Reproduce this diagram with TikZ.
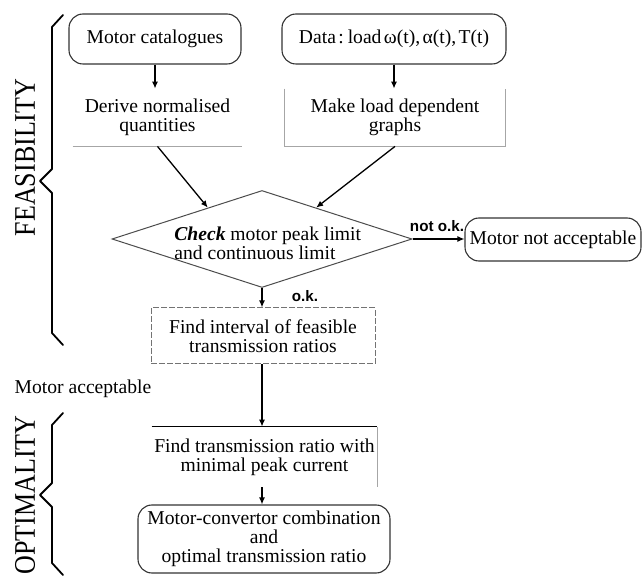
\documentclass[tikz,border=0pt]{standalone}
\usepackage{fontspec}
\setmainfont{Liberation Serif}
\newfontfamily\lblfont{Liberation Sans}
\usetikzlibrary{arrows.meta,shapes.geometric,calc}
\begin{document}
\begin{tikzpicture}[x=0.5pt,y=-0.5pt,
  body/.style={font=\fontsize{9.8pt}{9.6pt}\selectfont, align=center, inner sep=0pt},
  rbox/.style={body, draw=black!80, line width=0.55pt, rounded corners=7pt},
  plainbox/.style={body},
  faint/.style={draw=black!35, line width=0.5pt},
  dashbox/.style={draw=black!55, line width=0.5pt, dash pattern=on 3pt off 1pt},
  arr/.style={draw=black, line width=0.65pt, -{Latex[length=3.5pt,width=3pt]}},
  brace/.style={draw=black, line width=0.9pt, line join=round, line cap=round},
  lbl/.style={font=\lblfont\bfseries\fontsize{7.6pt}{8pt}\selectfont, inner sep=0pt},
  side/.style={font=\fontsize{13pt}{13pt}\selectfont, rotate=90, inner sep=0pt},
]
\useasboundingbox (0,0) rectangle (643,577);

% top row
\node[rbox, minimum width=86pt, minimum height=25pt] (mc) at (155,39) {Motor catalogues};
\node[rbox, minimum width=112pt, minimum height=25pt] (data) at (394,39) {{\spaceskip=0.12em\relax Data : load ω(t), α(t), T(t)}};

% second row
\node[plainbox, minimum width=84.5pt, minimum height=28.5pt] (der) at (157.5,117.5) {Derive normalised\\quantities};
\node[plainbox, minimum width=110pt, minimum height=28.5pt] (mk) at (395,117.5) {Make load dependent\\graphs};
\draw[faint] (der.south west) -- (der.south east);
\draw[faint] (mk.north west) -- (mk.south west) -- (mk.south east) -- (mk.north east);

\draw[arr] (mc.south) -- (mc.south |- der.north);
\draw[arr] (data.south) -- (data.south |- mk.north);

% decision
\node[diamond, draw=black!70, line width=0.5pt, minimum width=150pt, minimum height=48.5pt, inner sep=0pt] (chk) at (262,239) {};
\node[body, align=left, anchor=west] (chktxt) at (174,243) {\textbf{\textit{Check}} motor peak limit\\and continuous limit};
\coordinate (chkL) at ($(chk.north)!0.36!(chk.west)$);
\coordinate (chkR) at ($(chk.north)!0.36!(chk.east)$);
\draw[arr] (der.south) -- (chkL);
\draw[arr] (mk.south) -- (chkR);

% not acceptable
\node[rbox, minimum width=88pt, minimum height=21.5pt, inner sep=1pt] (nacc) at (553,239.5) {Motor not acceptable};
\draw[arr] (chk.east) -- (chk.east -| nacc.west);
\node[lbl] (notok) at (437,226) {not o.k.};

% feasible interval
\node[body, dashbox, minimum width=112pt, minimum height=28pt] (fi) at (263,336) {Find interval of feasible\\transmission ratios};
\draw[arr] (chk.south) -- (chk.south |- fi.north);
\node[lbl] (ok) at (305,296) {o.k.};

\node[body] (macc) at (83,389) {Motor acceptable};

% optimality
\node[body, minimum width=112.5pt, minimum height=30pt] (ft) at (264.5,457) {Find transmission ratio with\\minimal peak current};
\draw[black, line width=0.6pt] (ft.north west) -- (ft.north east);
\draw[faint] (ft.north east) -- (ft.south east);
\draw[arr] (chk.south |- fi.south) -- (chk.south |- ft.north);

\node[rbox, minimum width=126pt, minimum height=34pt] (fin) at (264,539) {Motor-convertor combination\\and\\optimal transmission ratio};
\draw[arr] (chk.south |- ft.south) -- (chk.south |- fin.north);

% side labels and braces
\node[side] (feas) at (25,157.5) {\scalebox{1}[1.15]{FEASIBILITY}};
\node[side] (opt) at (25,495) {\scalebox{1}[1.15]{OPTIMALITY}};
\draw[brace] (63,15) -- (52,27) -- (52,169) -- (40,181) -- (52,193) -- (52,333) -- (63,345);
\draw[brace] (63,413) -- (52,425) -- (52,483) -- (40,495) -- (52,507) -- (52,563) -- (63,575);
\end{tikzpicture}
\end{document}
